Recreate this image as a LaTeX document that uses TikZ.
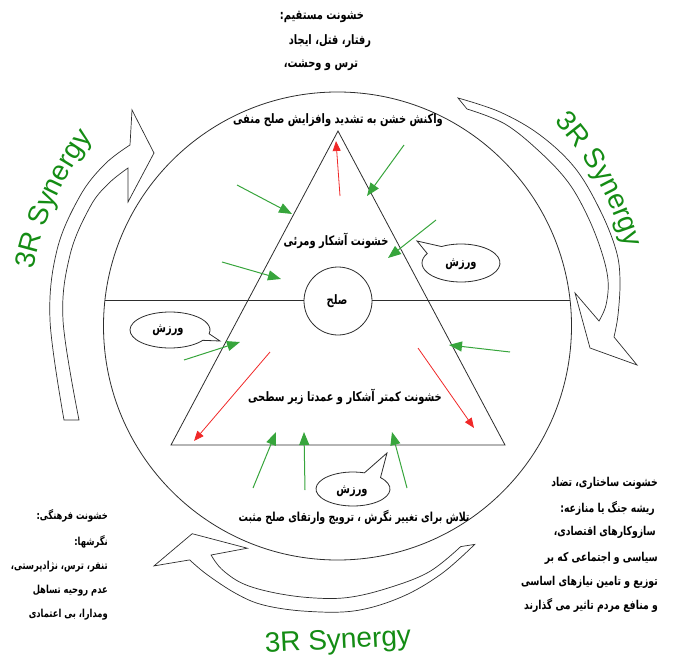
\documentclass[tikz,border=0pt]{standalone}
\usepackage{fontspec}
\usetikzlibrary{arrows.meta,decorations.text}
\TeXXeTstate=1
\newfontfamily\arabicfont[Script=Arabic, FakeStretch=0.76]{DejaVu Sans}
\newfontfamily\synfont{Liberation Sans}
\definecolor{syngreen}{RGB}{20,140,20}
\definecolor{agreen}{RGB}{55,165,60}
\definecolor{ared}{RGB}{240,40,40}
\definecolor{lin}{RGB}{45,45,45}
\begin{document}
\begin{tikzpicture}[x=1pt,y=-1pt,
  shp/.style={draw=lin, line width=0.8pt},
  fa/.style={font=\arabicfont\bfseries\fontsize{13}{15}\selectfont, inner sep=0pt, text=black},
  falft/.style={fa, font=\arabicfont\bfseries\fontsize{11}{13}\selectfont},
  fargt/.style={fa, font=\arabicfont\bfseries\fontsize{12.2}{14}\selectfont},
  garrow/.style={draw=agreen, line width=1pt, -{Triangle[length=13pt,width=10pt]}},
  rarrow/.style={draw=ared, line width=0.8pt, -{Triangle[length=10pt,width=8pt]}},
  bubble/.style={draw=lin, line width=0.8pt, fill=white},
  arrthr/.style={draw=lin, line width=0.7pt, line join=miter},
  syn/.style={font=\synfont\fontsize{28}{30}\selectfont, text=syngreen, inner sep=0pt}]
\useasboundingbox (0,0) rectangle (688,661);
\coordinate (C) at (337.5,326);
% main circle and horizontal line
\draw[shp] (C) circle[radius=234];
\coordinate (hl) at (105,300);
\coordinate (hr) at (570,300);
\draw[shp] (hl) -- (hr);
% triangle
\coordinate (ta) at (338,131);
\coordinate (tl) at (171,445);
\coordinate (tr) at (505,445);
\draw[shp] (ta) -- (tl) -- (tr) -- cycle;
% peace circle
\draw[shp, fill=white] (338,301) circle[radius=34];
\node[fa] (solh) at (337,301) {\beginR صلح\endR};

% 3R arrows
\draw[arrthr] plot[smooth, tension=0.6] coordinates {(64,420) (50,320) (57,250) (80,196) (105,164) (130,145)}
  -- (132,110) -- (154,153) -- (128,202) -- (128,168)
  -- plot[smooth, tension=0.6] coordinates {(128,168) (108,184) (90,207) (70,255) (63,320) (79,420)} -- cycle;
\draw[arrthr] plot[smooth, tension=0.6] coordinates {(458,98) (500,112) (540,135) (575,168) (600,210) (616,250) (620,280) (618,315) (614,337)}
  -- (637,365) -- (590,348) -- (575,293) -- (599,321)
  -- plot[smooth, tension=0.6] coordinates {(599,321) (606,305) (608,280) (601,250) (587,215) (568,182) (540,152) (505,124) (467,109)} -- cycle;
\draw[arrthr] plot[smooth, tension=0.6] coordinates {(474.7,544.4) (441.6,573.7) (401.7,596.9) (355.6,610.7) (306.7,611.3) (264.1,605.2) (236.1,593.6) (206.8,574.4) (189.7,559.9)}
  -- (154,565.9) -- (192.2,533.7) -- (247.3,548.2) -- (211.1,555)
  -- plot[smooth, tension=0.6] coordinates {(211.1,555) (221.5,569) (242.1,583.25) (271.6,592.2) (308.9,597.6) (347,597.6) (386.9,588.4) (428.7,572.1) (460.7,546.6)} -- cycle;

% 3R Synergy texts
\path[decorate, decoration={text along path, text color=syngreen,
  text={|\fontsize{28}{30}\synfont|3R Synergy}}]
  (C) ++(190.5:309) arc[start angle=190.5, end angle=240, radius=309];
\path[decorate, decoration={text along path, text color=syngreen,
  text={|\fontsize{28}{30}\synfont|3R Synergy}}]
  (C) ++(316.7:298) arc[start angle=316.7, end angle=370, radius=298];
\node[syn, rotate=3] (synb) at (338,642) {3R Synergy};

% green arrows
\foreach \n/\ax/\ay/\bx/\by in {g1/237/185/292/214, g2/404/145/367/196, g3/436/220/388/258,
  g4/222/262/281/279, g5/184/360/240/342, g6/510/352/449/345,
  g7/253/488/276/432, g8/305/490/304/432, g9/407/488/392/432}{
  \coordinate (\n s) at (\ax,\ay);
  \coordinate (\n e) at (\bx,\by);
  \draw[garrow] (\n s) -- (\n e);
}
% red arrows
\foreach \n/\ax/\ay/\bx/\by in {r1/340/196/336/141, r2/270/352/194/441, r3/418/348/474/428}{
  \coordinate (\n s) at (\ax,\ay);
  \coordinate (\n e) at (\bx,\by);
  \draw[rarrow] (\n s) -- (\n e);
}

% speech bubbles
\draw[bubble] (461,263) ++(240:39 and 19) arc[start angle=240, end angle=570, x radius=39, y radius=19] -- (417,241) -- cycle;
\node[fa] (vz1) at (461,264) {\beginR ورزش\endR};
\draw[bubble] (170,330) ++(35:40 and 18) arc[start angle=35, end angle=372, x radius=40, y radius=18] -- (220,341) -- cycle;
\node[fa] (vz2) at (168,330) {\beginR ورزش\endR};
\draw[bubble] (353,489) ++(318:37 and 17) arc[start angle=318, end angle=648, x radius=37, y radius=17] -- (387,453) -- cycle;
\node[fa] (vz3) at (352,491) {\beginR ورزش\endR};

% central texts
\node[fa] (t1) at (338,120) {\beginR واکنش خشن به تشدید وافزایش صلح منفی\endR};
\node[fa] (t2) at (336,241) {\beginR خشونت آشکار ومرئی\endR};
\node[fa] (t3) at (345,397) {\beginR خشونت کمتر آشکار و عمدتا زیر سطحی\endR};
\node[fa, font=\arabicfont\bfseries\fontsize{12.4}{14}\selectfont] (t4) at (354,517) {\beginR تلاش برای تغییر نگرش ، ترویج وارتقای صلح مثبت\endR};

% top block
\node[fa] (top1) at (322,17) {\beginR خشونت مستقیم:\endR};
\node[fa] (top2) at (330,41) {\beginR رفتار، قتل، ایجاد\endR};
\node[fa] (top3) at (321,65) {\beginR ترس و وحشت،\endR};

% left block
\node[falft, anchor=east] (lf1) at (108,516) {\beginR خشونت فرهنگی:\endR};
\node[falft, anchor=east] (lf2) at (108,542) {\beginR نگرشها:\endR};
\node[falft, anchor=east] (lf3) at (108,567) {\beginR تنفر، ترس، نژادپرستی،\endR};
\node[falft, anchor=east] (lf4) at (108,591) {\beginR عدم روحیه تساهل\endR};
\node[falft, anchor=east] (lf5) at (108,615) {\beginR ومدارا، بی اعتمادی\endR};

% right block
\node[fargt, anchor=east] (rt1) at (658,483) {\beginR خشونت ساختاری، تضاد\endR};
\node[fargt, anchor=east] (rt2) at (655,508) {\beginR ریشه  جنگ یا منازعه:\endR};
\node[fargt, anchor=east] (rt3) at (656,532) {\beginR سازوکارهای اقتصادی،\endR};
\node[fargt, anchor=east] (rt4) at (658,558) {\beginR سیاسی و اجتماعی که بر\endR};
\node[fargt, anchor=east] (rt5) at (658,582) {\beginR توزیع و تامین نیازهای اساسی\endR};
\node[fargt, anchor=east] (rt6) at (658,605) {\beginR و منافع مردم تاثیر می گذارند\endR};
\end{tikzpicture}
\end{document}
